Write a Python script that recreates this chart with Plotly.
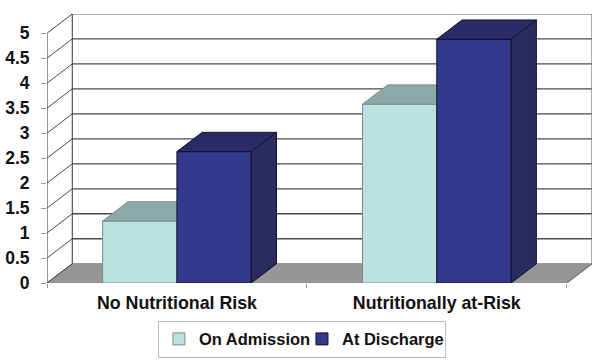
import plotly.graph_objects as go

categories = ["No Nutritional Risk", "Nutritionally at-Risk"]
on_admission = [1.24, 3.58]
at_discharge = [2.63, 4.88]
y_ticks = [0, 0.5, 1, 1.5, 2, 2.5, 3, 3.5, 4, 4.5, 5]
y_labels = ["0", "0.5", "1", "1.5", "2", "2.5", "3", "3.5", "4", "4.5", "5"]

# projection of the fake 3-D depth, in data units
DX, DY = 0.0973, 0.386
BW = 0.286
X0, X1 = -0.5, 1.5
XR = [X0, X1 + DX]
YR = [0, 5.385]
FONT = "Liberation Sans, Arial, sans-serif"
x = [0, 1]

fig = go.Figure()

def seg(pairs):
    xs, ys = [], []
    for (a, b) in pairs:
        xs += [a[0], b[0], None]
        ys += [a[1], b[1], None]
    return xs, ys

def line(pairs, color, width=1.2):
    xs, ys = seg(pairs)
    fig.add_trace(go.Scatter(x=xs, y=ys, mode="lines", showlegend=False, hoverinfo="skip",
                             line=dict(color=color, width=width)))

fig.add_trace(go.Scatter(x=[X0, X1, X1 + DX, X0 + DX, X0], y=[0, 0, DY, DY, 0], mode="lines",
                         fill="toself", fillcolor="#969696", line=dict(color="#8a8a8a", width=1),
                         showlegend=False, hoverinfo="skip"))
grid = [t for t in y_ticks if 0 < t < 5]
line([((X0 + DX, t + DY), (X1 + DX, t + DY)) for t in grid], "#4a4a4a", 1.3)
line([((X0 + DX, 5 + DY), (X1 + DX, 5 + DY))], "#9a9a9a", 1.5)
line([((X0, t), (X0 + DX, t + DY)) for t in y_ticks], "#333333", 0.9)
line([((X0 + DX, DY), (X0 + DX, 5 + DY)), ((X0, 0), (X0, 5))], "#333333", 1)
line([((X1 + DX, DY), (X1 + DX, 5 + DY)), ((X1, 0), (X1 + DX, DY))], "#777777", 1.2)

def box(values, offset, name, front, top, side, edge, ax):
    xa, ya = "x" + ax, "y" + ax
    fig.add_trace(go.Bar(x=x, y=values, name=name, width=BW, offset=offset, xaxis=xa, yaxis=ya,
                         marker=dict(color=front, line=dict(color=edge, width=1))))
    for xc, v in zip(x, values):
        l, r = xc + offset, xc + offset + BW
        fig.add_trace(go.Scatter(x=[l, r, r + DX, l + DX, l], y=[v, v, v + DY, v + DY, v], xaxis=xa, yaxis=ya,
                                 mode="lines", fill="toself", fillcolor=top, line=dict(color=edge, width=1),
                                 showlegend=False, hoverinfo="skip"))
        fig.add_trace(go.Scatter(x=[r, r + DX, r + DX, r, r], y=[0, DY, v + DY, v, 0], xaxis=xa, yaxis=ya,
                                 mode="lines", fill="toself", fillcolor=side, line=dict(color=edge, width=1),
                                 showlegend=False, hoverinfo="skip"))

box(on_admission, -BW, "On Admission", "#BBE1E1", "#8CA9A9", "#7F9B9B", "#7c8a8a", "2")
box(at_discharge, 0, "At Discharge", "#333A8E", "#2A2C66", "#2A2C5E", "#10102a", "3")

hidden = dict(range=XR, visible=False, fixedrange=True)
hiddeny = dict(range=YR, visible=False, fixedrange=True)
fig.update_layout(
    width=601, height=360,
    margin=dict(l=46.5, r=9.3, t=14, b=77.3, pad=0, autoexpand=False),
    paper_bgcolor="white", plot_bgcolor="white",
    barmode="overlay",
    font=dict(family=FONT, color="#111111"),
    xaxis=dict(range=XR, tickmode="array", tickvals=x, ticktext=categories, ticks="", showgrid=False,
               zeroline=False, showline=False, fixedrange=True, ticklabelstandoff=7,
               tickfont=dict(size=17.8, family=FONT, weight="bold"),
               minor=dict(tickmode="array", tickvals=[-0.5, 0.5, 1.5], ticks="outside", ticklen=4,
                          tickcolor="#999999", tickwidth=1, showgrid=False)),
    yaxis=dict(range=YR, tickmode="array", tickvals=y_ticks, ticktext=y_labels, ticks="outside", ticklen=5,
               tickcolor="#999999", showgrid=False, zeroline=False, showline=False, fixedrange=True,
               ticklabelstandoff=8,
               tickfont=dict(size=17.5, family=FONT, weight="bold")),
    xaxis2=dict(overlaying="x", **hidden),
    yaxis2=dict(overlaying="y", **hiddeny),
    xaxis3=dict(overlaying="x", **hidden),
    yaxis3=dict(overlaying="y", **hiddeny),
    legend=dict(orientation="h", x=0.2036, xanchor="left", y=-0.14, yanchor="top",
                bordercolor="#bbbbbb", borderwidth=1, bgcolor="white",
                entrywidth=98, entrywidthmode="pixels",
                font=dict(size=16.5, family=FONT, weight="bold"), itemwidth=30),
)
# the page body would otherwise add an 8px margin around the figure
fig.write_html("out.html", config={"displayModeBar": False},
               post_script="document.body.style.margin='0';document.documentElement.style.overflow='hidden';")
